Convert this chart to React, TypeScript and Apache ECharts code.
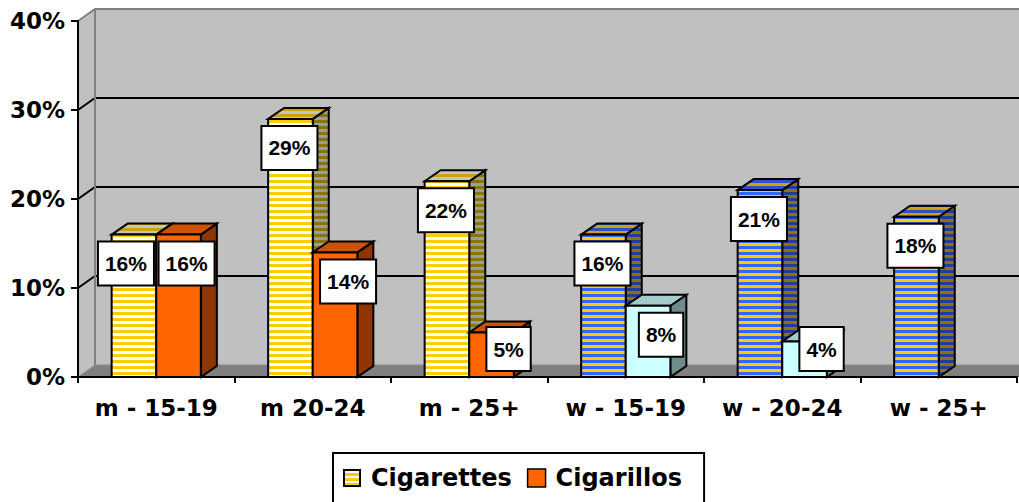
import React, { useEffect, useRef } from 'react';
import * as echarts from 'echarts';

const categories = ['m - 15-19', 'm 20-24', 'm - 25+', 'w - 15-19', 'w - 20-24', 'w - 25+'];
const groups = ['m', 'm', 'm', 'w', 'w', 'w'];
const cigarettes = [0.16, 0.29, 0.22, 0.16, 0.21, 0.18];
const cigarillos: (number | null)[] = [0.16, 0.14, 0.05, 0.08, 0.04, null];
const seriesNames = ['Cigarettes', 'Cigarillos'];
const gridTicks = [0.1, 0.2, 0.3];

// styles
const BAR_FRAC = 0.285;
const DX = 16;
const DY = -11;
const WX = 17;
const WY = -12;
const P = 6;

type Face = { base: string; stripe?: string };
type Pal = { front: Face; top: Face; side: Face };
const palette: Record<string, Pal[]> = {
  m: [
    { front: { base: '#FFFFFF', stripe: '#FFCC00' }, top: { base: '#C4C4C4', stripe: '#CCA300' }, side: { base: '#9C9C9C', stripe: '#8C7400' } },
    { front: { base: '#FF6600' }, top: { base: '#CC5200' }, side: { base: '#8F3500' } },
  ],
  w: [
    { front: { base: '#FFCC00', stripe: '#3366FF' }, top: { base: '#CCA300', stripe: '#2952CC' }, side: { base: '#8C7400', stripe: '#1F3D99' } },
    { front: { base: '#CCFFFF' }, top: { base: '#A3CCCC' }, side: { base: '#6E8C8C' } },
  ],
};

type Pt = number[];
function clipHalf(poly: Pt[], keep: (p: Pt) => boolean, cross: (p: Pt, q: Pt) => Pt) {
  const out: Pt[] = [];
  for (let i = 0; i < poly.length; i++) {
    const cur = poly[i];
    const prev = poly[(i + poly.length - 1) % poly.length];
    const ci = keep(cur);
    const pi = keep(prev);
    if (ci) {
      if (!pi) out.push(cross(prev, cur));
      out.push(cur);
    } else if (pi) {
      out.push(cross(prev, cur));
    }
  }
  return out;
}
function clipBand(poly: Pt[], ya: number, yb: number) {
  const at = (y: number) => (p: Pt, q: Pt) => {
    const t = (y - p[1]) / (q[1] - p[1]);
    return [p[0] + t * (q[0] - p[0]), y];
  };
  let r = clipHalf(poly, (p) => p[1] >= ya, at(ya));
  if (r.length < 3) return r;
  r = clipHalf(r, (p) => p[1] <= yb, at(yb));
  return r;
}
function faceEls(poly: Pt[], face: Face) {
  const els: any[] = [{ type: 'polygon', shape: { points: poly }, style: { fill: face.base } }];
  if (face.stripe) {
    const ys = poly.map((p) => p[1]);
    const y0 = Math.min(...ys);
    const y1 = Math.max(...ys);
    for (let k = Math.floor(y0 / P); k * P < y1; k++) {
      const c = clipBand(poly, k * P, k * P + P / 2);
      if (c.length >= 3) els.push({ type: 'polygon', shape: { points: c }, style: { fill: face.stripe } });
    }
  }
  els.push({ type: 'polygon', shape: { points: poly }, style: { fill: 'none', stroke: '#000', lineWidth: 2 } });
  return els;
}

function renderBar(s: number) {
  return (params: any, api: any) => {
    const i = api.value(0);
    const v = api.value(1);
    const pal = palette[groups[i]][s];
    const [cx, zeroY] = api.coord([i, 0]);
    const topY = api.coord([i, v])[1];
    const bw = api.size([1, 0])[0] * BAR_FRAC;
    const L = s === 0 ? cx - bw : cx;
    const R = L + bw;
    const side = [[R, topY], [R + DX, topY + DY], [R + DX, zeroY + DY], [R, zeroY]];
    const top = [[L, topY], [L + DX, topY + DY], [R + DX, topY + DY], [R, topY]];
    const front = [[L, topY], [R, topY], [R, zeroY], [L, zeroY]];
    return {
      type: 'group',
      children: [...faceEls(side, pal.side), ...faceEls(top, pal.top), ...faceEls(front, pal.front)],
    };
  };
}

function labelY(api: any, i: number, v: number) {
  const zeroY = api.coord([i, 0])[1];
  return Math.min(api.coord([i, v])[1] + 29, zeroY - 28);
}

const labelData: number[][] = [];
cigarettes.forEach((v, i) => labelData.push([i, v, 0]));
cigarillos.forEach((v, i) => { if (v != null) labelData.push([i, v, 1]); });

const stripeSvg =
  '<svg xmlns="http://www.w3.org/2000/svg" width="18" height="18">' +
  '<rect x="1" y="1" width="16" height="16" fill="#FFFFFF"/>' +
  '<rect x="1" y="4" width="16" height="3" fill="#FFCC00"/>' +
  '<rect x="1" y="9" width="16" height="3" fill="#FFCC00"/>' +
  '<rect x="1" y="14" width="16" height="3" fill="#FFCC00"/>' +
  '<rect x="1" y="1" width="16" height="16" fill="none" stroke="#000" stroke-width="2"/></svg>';
const stripeIcon = 'image://data:image/svg+xml;charset=utf-8,' + encodeURIComponent(stripeSvg);

const axisFont = { color: '#000', fontFamily: 'DejaVu Sans', fontWeight: 'bold' as const, fontSize: 23 };

const option: any = {
  animation: false,
  backgroundColor: '#FFFFFF',
  grid: { left: 78, top: 21, width: 939, height: 356 },
  xAxis: {
    type: 'category',
    data: categories,
    z: 6,
    axisLine: { lineStyle: { color: '#000', width: 2 } },
    axisTick: { show: true, length: 6, lineStyle: { color: '#000', width: 2 } },
    axisLabel: { ...axisFont, margin: 19, interval: 0 },
    splitLine: { show: false },
  },
  yAxis: {
    type: 'value',
    min: 0,
    max: 0.4,
    interval: 0.1,
    z: 6,
    axisLine: { show: true, lineStyle: { color: '#000', width: 2 } },
    axisTick: { show: true, length: 7, lineStyle: { color: '#000', width: 2 } },
    axisLabel: { ...axisFont, margin: 13, formatter: (v: number) => Math.round(v * 100) + '%' },
    splitLine: { show: false },
  },
  legend: {
    left: 333,
    top: 453,
    selectedMode: false,
    data: [
      { name: seriesNames[0], icon: stripeIcon },
      { name: seriesNames[1], icon: 'rect', itemStyle: { color: '#FF6600', borderColor: '#000', borderWidth: 1.5 } },
    ],
    itemWidth: 18,
    itemHeight: 18,
    itemGap: 15,
    borderColor: '#000',
    borderWidth: 2,
    padding: [13, 22, 13, 10],
    textStyle: { color: '#000', fontFamily: 'DejaVu Sans', fontWeight: 'bold', fontSize: 24, padding: [0, 0, 0, 5] },
  },
  series: [
    {
      type: 'custom',
      name: 'wall',
      z: 1,
      silent: true,
      data: [[0, 0]],
      encode: { x: 0, y: 1 },
      renderItem: (params: any, api: any) => {
        const cs = params.coordSys;
        const x0 = cs.x;
        const y0 = cs.y;
        const x1 = cs.x + cs.width + 4;
        const yb = cs.y + cs.height;
        const children: any[] = [
          { type: 'polygon', shape: { points: [[x0, y0], [x0 + WX, y0 + WY], [x0 + WX, yb + WY], [x0, yb]] }, style: { fill: '#C0C0C0' } },
          { type: 'polygon', shape: { points: [[x0 + WX, y0 + WY], [x1, y0 + WY], [x1, yb + WY], [x0 + WX, yb + WY]] }, style: { fill: '#C0C0C0' } },
          { type: 'polygon', shape: { points: [[x0, yb], [x0 + WX, yb + WY], [x1, yb + WY], [x1, yb]] }, style: { fill: '#808080' } },
        ];
        gridTicks.forEach((v) => {
          const y = api.coord([0, v])[1];
          children.push({ type: 'polyline', shape: { points: [[x0, y], [x0 + WX, y + WY], [x1, y + WY]] }, style: { stroke: '#000', lineWidth: 2, fill: 'none' } });
        });
        children.push({ type: 'polyline', shape: { points: [[x0, y0], [x0 + WX, y0 + WY], [x1, y0 + WY]] }, style: { stroke: '#808080', lineWidth: 2, fill: 'none' } });
        children.push({ type: 'line', shape: { x1: x0 + WX, y1: y0 + WY, x2: x0 + WX, y2: yb + WY }, style: { stroke: '#808080', lineWidth: 2 } });
        children.push({ type: 'polyline', shape: { points: [[x0, yb], [x0 + WX, yb + WY], [x1, yb + WY]] }, style: { stroke: '#8C8C8C', lineWidth: 1, fill: 'none' } });
        return { type: 'group', children };
      },
    },
    {
      type: 'custom',
      name: seriesNames[0],
      z: 2,
      itemStyle: { color: '#FFCC00' },
      data: cigarettes.map((v, i) => [i, v]),
      encode: { x: 0, y: 1 },
      renderItem: renderBar(0),
    },
    {
      type: 'custom',
      name: seriesNames[1],
      z: 3,
      itemStyle: { color: '#FF6600' },
      data: cigarillos.flatMap((v, i) => (v == null ? [] : [[i, v]])),
      encode: { x: 0, y: 1 },
      renderItem: renderBar(1),
    },
    {
      type: 'custom',
      name: 'labels',
      z: 4,
      silent: true,
      data: labelData,
      encode: { x: 0, y: 1 },
      renderItem: (params: any, api: any) => {
        const i = api.value(0);
        const v = api.value(1);
        const s = api.value(2);
        const [cx, zeroY] = api.coord([i, 0]);
        const bw = api.size([1, 0])[0] * BAR_FRAC;
        const fc = s === 0 ? cx - bw / 2 : cx + bw / 2;
        const ly = labelY(api, i, v);
        const other = s === 0 ? cigarillos[i] : cigarettes[i];
        let off = s === 0 ? -1 : 13;
        if (s === 1 && ly >= zeroY - 28) off = 17;
        if (other != null && Math.abs(labelY(api, i, other) - ly) < 42) off = s === 0 ? -8 : 8;
        return {
          type: 'text',
          x: fc + off,
          y: ly,
          style: {
            text: Math.round(v * 100) + '%',
            font: 'bold 21px "Liberation Sans", Arial, sans-serif',
            fill: '#000',
            align: 'center',
            verticalAlign: 'middle',
            lineHeight: 24,
            backgroundColor: '#FFFFFF',
            borderColor: '#000',
            borderWidth: 2,
            padding: [9, 6],
          },
        };
      },
    },
  ],
};

export default function App() {
  const ref = useRef<HTMLDivElement>(null);
  useEffect(() => {
    const chart = echarts.init(ref.current!, null, { renderer: 'svg' });
    chart.setOption(option);
    return () => chart.dispose();
  }, []);
  return <div ref={ref} style={{ position: 'absolute', left: 0, top: 0, width: 1019, height: 502 }} />;
}
